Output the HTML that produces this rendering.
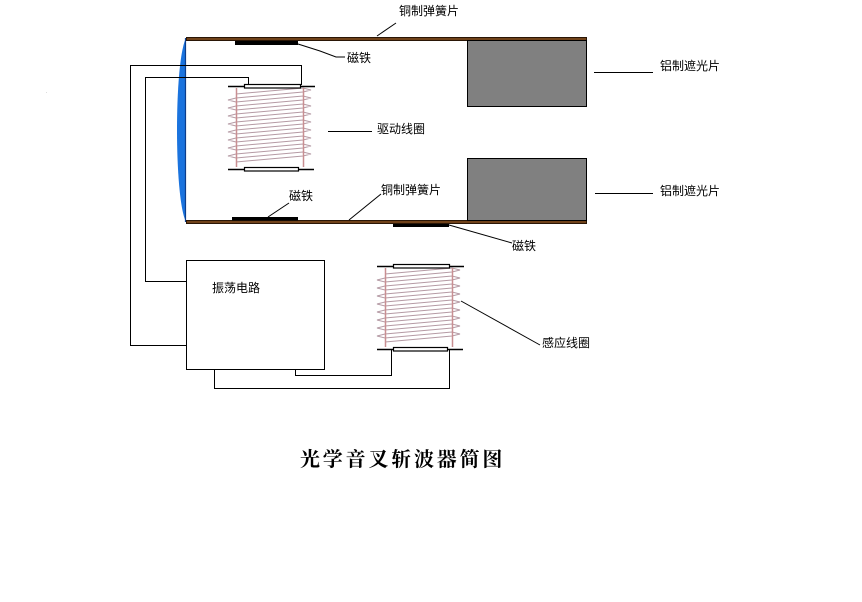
<!DOCTYPE html>
<html lang="zh">
<head>
<meta charset="utf-8">
<style>
html,body{margin:0;padding:0;background:#fff;}
body{width:862px;height:602px;overflow:hidden;position:relative;}
svg{position:absolute;left:0;top:0;}
.t{position:absolute;font-family:"Liberation Sans","WenQuanYi Zen Hei","Noto Sans CJK SC",sans-serif;font-size:12px;line-height:14px;color:#000;white-space:nowrap;}
.title{position:absolute;left:300px;top:447px;font-family:"Liberation Serif","Noto Serif CJK SC",serif;font-size:20px;font-weight:700;line-height:26px;letter-spacing:2.8px;color:#000;white-space:nowrap;}
</style>
</head>
<body>
<svg width="862" height="602" viewBox="0 0 862 602" xmlns="http://www.w3.org/2000/svg">
<defs>
<g id="coil">
<path d="M236 94
l67 -6 l8 2 l-8 2 l-67 6 l-8 2 l8 2
l67 -6 l8 2 l-8 2 l-67 6 l-8 2 l8 2
l67 -6 l8 2 l-8 2 l-67 6 l-8 2 l8 2
l67 -6 l8 2 l-8 2 l-67 6 l-8 2 l8 2
l67 -6 l8 2 l-8 2 l-67 6 l-8 2 l8 2
l67 -6 l8 2 l-8 2 l-67 6 l-8 2 l8 2
l67 -6 l8 2 l-8 2 l-67 6 l-8 2 l8 2
l67 -6 l8 2 l-8 2 l-67 6 l-8 2 l8 2
l67 -6 l8 2 l-8 2 l-67 6" fill="none" stroke="#b59aa4" stroke-width="1"/>
<path d="M236.5 88V167M303.5 88V167" stroke="#c98f92" stroke-width="1.5" fill="none"/>
<path d="M228 86.5H315" stroke="#000" stroke-width="1.4" fill="none"/>
<rect x="244.5" y="84.5" width="56" height="3.5" fill="#fff" stroke="#000" stroke-width="1.2"/>
<path d="M228 169.5H314" stroke="#000" stroke-width="1.4" fill="none"/>
<rect x="244.5" y="167.5" width="54" height="3.5" fill="#fff" stroke="#000" stroke-width="1.2"/>
</g>
</defs>

<!-- coils -->
<use href="#coil"/>
<use href="#coil" x="149" y="180"/>

<!-- lens -->
<path d="M186 38 C180 50 177 90 177 130 C177 170 180 210 186 222 Z" fill="#1a73de"/>
<path d="M185.5 38V222" stroke="#0b3d8c" stroke-width="1.2" fill="none"/>

<!-- spring strips -->
<rect x="186.5" y="37.5" width="400" height="3" fill="#70421a" stroke="#2a1606" stroke-width="1"/>
<rect x="186.5" y="220.5" width="400" height="3" fill="#70421a" stroke="#2a1606" stroke-width="1"/>

<!-- shutters -->
<rect x="467.5" y="40.5" width="119" height="66" fill="#808080" stroke="#000" stroke-width="1"/>
<rect x="467.5" y="158.5" width="119" height="62" fill="#808080" stroke="#000" stroke-width="1"/>

<!-- magnets -->
<rect x="235" y="41" width="63" height="4" fill="#000"/>
<rect x="232" y="217" width="66" height="3.5" fill="#000"/>
<rect x="393" y="224" width="56" height="3" fill="#000"/>

<!-- wires -->
<g fill="none" stroke="#000" stroke-width="1">
<path d="M301.5 85V65.5H130.5V345.5H186.5"/>
<path d="M248.5 85V77.5H145.5V281.5H186.5"/>
<rect x="186.5" y="260.5" width="138" height="109" fill="#fff"/>
<path d="M295.5 370V375.5H391.5V350"/>
<path d="M214.5 370V388.5H449.5V350"/>
<!-- leaders -->
<path d="M377 36L396 23"/>
<path d="M298 44L320 51L336 57L345 57"/>
<path d="M328 131.5H372"/>
<path d="M461 301L540 345"/>
<path d="M594 72.5H653"/>
<path d="M595 193.5H653"/>
<path d="M268 217L289 203"/>
<path d="M349 220L381 194"/>
<path d="M449 225L512 243"/>
</g>
<rect x="46" y="92" width="1" height="1" fill="#ddd"/>
</svg>

<div class="t" style="left:399px;top:4px;">铜制弹簧片</div>
<div class="t" style="left:347px;top:51px;">磁铁</div>
<div class="t" style="left:660px;top:59px;">铝制遮光片</div>
<div class="t" style="left:377px;top:122px;">驱动线圈</div>
<div class="t" style="left:289px;top:189px;">磁铁</div>
<div class="t" style="left:381px;top:183px;">铜制弹簧片</div>
<div class="t" style="left:660px;top:184px;">铝制遮光片</div>
<div class="t" style="left:512px;top:239px;">磁铁</div>
<div class="t" style="left:212px;top:281px;">振荡电路</div>
<div class="t" style="left:542px;top:336px;">感应线圈</div>
<div class="title">光学音叉斩波器简图</div>
</body>
</html>
